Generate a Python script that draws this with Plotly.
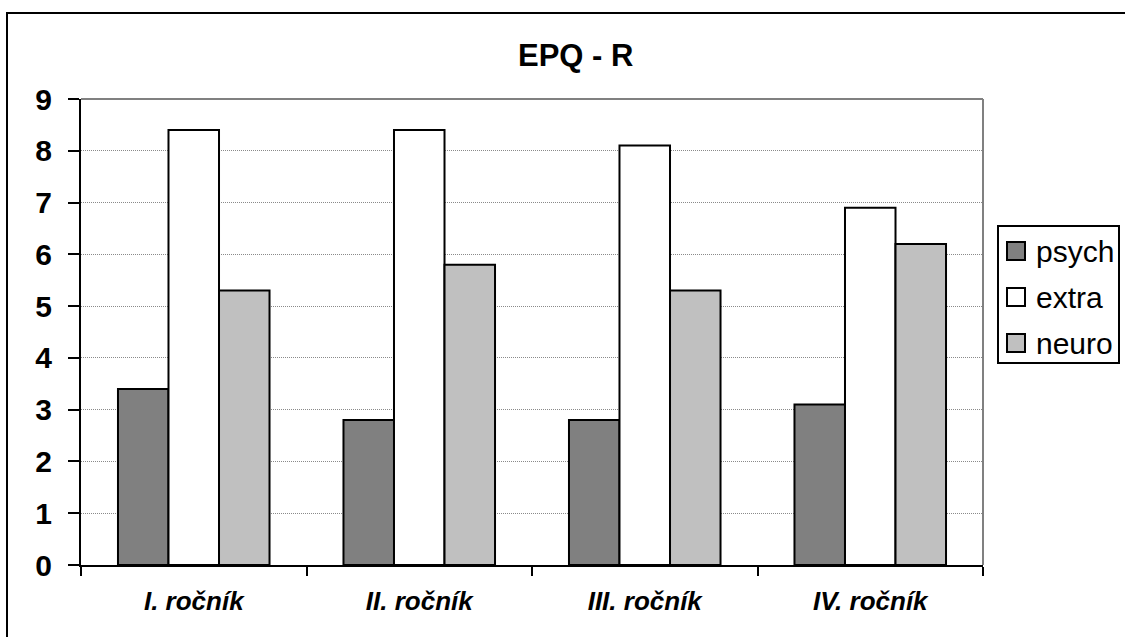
import plotly.graph_objects as go

# Survey groups and EPQ-R mean scores
categories = ["I. ročník", "II. ročník", "III. ročník", "IV. ročník"]
series_names = ["psych", "extra", "neuro"]
psych = [3.4, 2.8, 2.8, 3.1]
extra = [8.4, 8.4, 8.1, 6.9]
neuro = [5.3, 5.8, 5.3, 6.2]
y_ticks = [0, 1, 2, 3, 4, 5, 6, 7, 8, 9]

fills = ["#808080", "#FFFFFF", "#C0C0C0"]
FONT = "Liberation Sans, Arial, sans-serif"

W, H = 1125, 637
L, R, T, B = 81, 983, 99, 565  # plot-area pixel bounds


def px(x):
    return (x - L) / (R - L)


def py(y):
    return (B - y) / (B - T)


fig = go.Figure()
for name, vals, col in zip(series_names, [psych, extra, neuro], fills):
    fig.add_trace(go.Bar(
        x=categories, y=vals, name=name,
        marker=dict(color=col, line=dict(color="black", width=2)),
        showlegend=False,
    ))

shapes = [
    # outer chart frame
    dict(type="rect", xref="paper", yref="paper",
         x0=px(7), x1=px(1140), y0=py(13), y1=py(660),
         line=dict(color="black", width=2), fillcolor="rgba(0,0,0,0)", layer="below"),
    # plot-area border (top and right)
    dict(type="line", xref="paper", yref="paper", x0=0, x1=1, y0=1, y1=1,
         line=dict(color="#808080", width=2)),
    dict(type="line", xref="paper", yref="paper", x0=1, x1=1, y0=0, y1=1,
         line=dict(color="#808080", width=2)),
    # legend box
    dict(type="rect", xref="paper", yref="paper",
         x0=px(998), x1=px(1119), y0=py(226), y1=py(363),
         line=dict(color="black", width=2), fillcolor="white"),
]

annotations = [
    dict(text="<b>EPQ - R</b>", xref="paper", yref="paper",
         x=px(575), y=py(55), xanchor="center", yanchor="middle",
         showarrow=False, font=dict(family=FONT, size=31, color="black")),
]

# legend entries
legend_rows = [251, 297, 343]
for name, col, yc in zip(series_names, fills, legend_rows):
    shapes.append(dict(type="rect", xref="paper", yref="paper",
                       x0=px(1007), x1=px(1025), y0=py(yc - 9), y1=py(yc + 9),
                       line=dict(color="black", width=2), fillcolor=col))
    annotations.append(dict(text=name, xref="paper", yref="paper",
                            x=px(1034), y=py(yc), xanchor="left", yanchor="middle",
                            showarrow=False,
                            font=dict(family=FONT, size=30, color="black")))

fig.update_layout(
    width=W, height=H,
    margin=dict(l=L, r=W - R, t=T, b=H - B, pad=0),
    paper_bgcolor="white", plot_bgcolor="white",
    barmode="group", bargap=0.328, bargroupgap=0,
    shapes=shapes, annotations=annotations,
    font=dict(family=FONT, color="black"),
)

fig.update_xaxes(
    type="category",
    showline=True, linecolor="black", linewidth=2,
    ticks="outside", tickson="boundaries", ticklen=9, tickwidth=2, tickcolor="black",
    tickfont=dict(family=FONT, size=26, color="black"),
    ticklabelstandoff=12,
    tickvals=categories,
    ticktext=[f"<b><i>{c}</i></b>" for c in categories],
    showgrid=False,
)

fig.update_yaxes(
    range=[0, 9], tickvals=y_ticks,
    ticktext=[f"<b>{v}</b>" for v in y_ticks],
    showline=True, linecolor="black", linewidth=2,
    ticks="outside", ticklen=11, tickwidth=2, tickcolor="black",
    tickfont=dict(family=FONT, size=30, color="black"),
    ticklabelstandoff=10,
    showgrid=True, gridcolor="#8a8a8a", gridwidth=1, griddash="1px,1px",
    zeroline=False,
)

fig.write_html("out.html")
